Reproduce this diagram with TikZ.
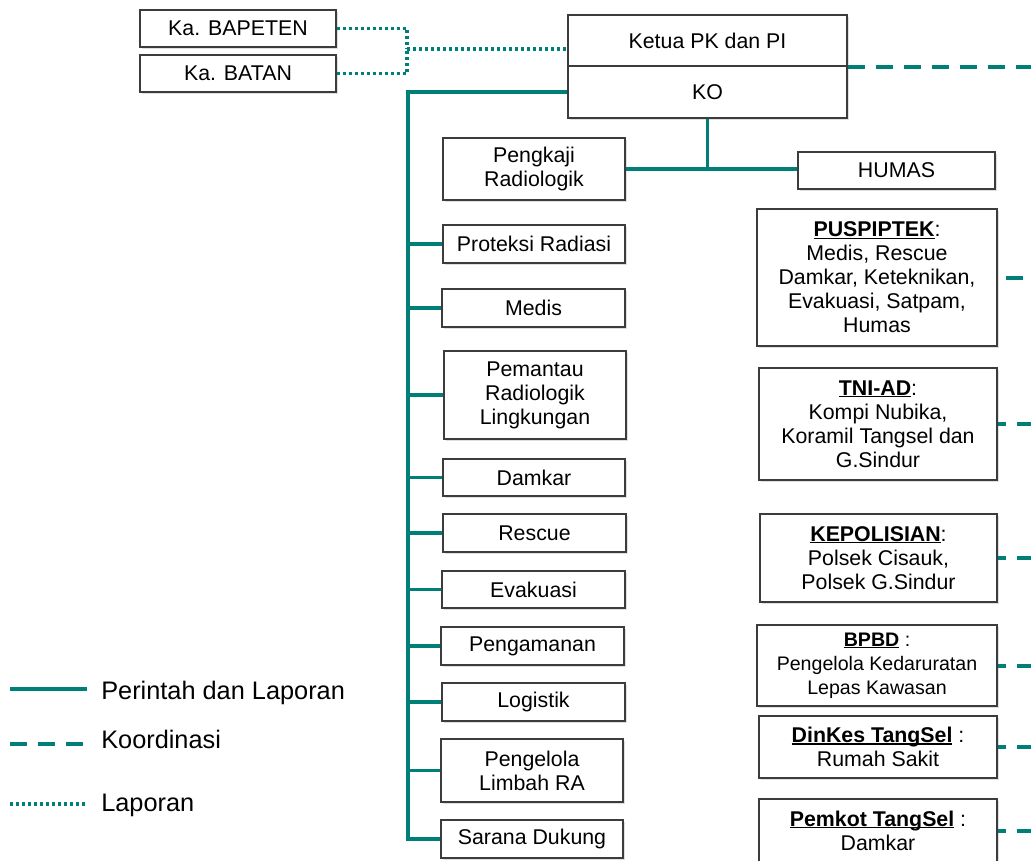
\documentclass[tikz,border=0pt]{standalone}
\usepackage{fontspec}
\setmainfont{Liberation Sans}
\usetikzlibrary{shadows}
\definecolor{teal1}{RGB}{0,126,120}
\definecolor{edgegray}{RGB}{60,60,60}
\newcommand\hdr[1]{\setbox0\hbox{\textbf{#1}}\rlap{\rule[-1.6pt]{\wd0}{1.1pt}}\box0\relax}
\newcommand\mybox[7][]{\node[box,#1,minimum width={(#5-#3)*0.75pt},minimum height={(#6-#4)*0.75pt}] (#2) at ({(#3+#5)/2},{(#4+#6)/2}) {#7};}
\begin{document}
\begin{tikzpicture}[x=0.75pt,y=-0.75pt,
  box/.style={draw=edgegray, line width=1pt, fill=white, inner sep=0pt, align=center,
    font=\fontsize{16}{18}\selectfont, text=black,
    drop shadow={opacity=0.25, shadow xshift=1.2pt, shadow yshift=-1.2pt}},
  small/.style={font=\fontsize{14.7}{18}\selectfont},
  cmd/.style={draw=teal1, line width=2.3pt},
  koor/.style={draw=teal1, line width=3pt, dash pattern=on 12.75pt off 8.25pt},
  lap/.style={draw=teal1, line width=2.6pt, dash pattern=on 2.4pt off 2.1pt},
  legend/.style={font=\fontsize{19}{22}\selectfont, inner sep=0pt, text=black}]
\useasboundingbox (0,0) rectangle (1031,860);
% top boxes
\mybox{bapeten}{140}{10}{336}{47}{Ka. BAPETEN}
\mybox{batan}{140}{55}{336}{92}{Ka. BATAN}
\mybox{ketua}{568}{15}{847}{66}{Ketua PK dan PI}
\mybox{ko}{568}{66}{847}{118}{KO}
% left column
\mybox{pengkaji}{443}{138}{625}{200}{Pengkaji\\Radiologik}
\mybox{humas}{798}{152}{995}{189}{HUMAS}
\mybox{prot}{443}{225}{625}{263}{Proteksi Radiasi}
\mybox{medis}{442}{289}{625}{327}{Medis}
\mybox{pem}{444}{351}{626}{439}{Pemantau\\Radiologik\\Lingkungan}
\mybox{damkar}{443}{459}{625}{496}{Damkar}
\mybox{rescue}{443}{514}{626}{552}{Rescue}
\mybox{evak}{442}{571}{625}{608}{Evakuasi}
\mybox{peng}{441}{627}{624}{665}{Pengamanan}
\mybox{logi}{442}{683}{625}{721}{Logistik}
\mybox{limbah}{441}{739}{623}{802}{Pengelola\\Limbah RA}
\mybox{sarana}{441}{820}{623}{858}{Sarana Dukung}
% right column
\mybox{pus}{757}{209}{997}{346}{\hdr{PUSPIPTEK}:\\Medis, Rescue\\Damkar, Keteknikan,\\Evakuasi, Satpam,\\Humas}
\mybox{tni}{759}{368}{997}{480}{\hdr{TNI-AD}:\\Kompi Nubika,\\Koramil Tangsel dan\\G.Sindur}
\mybox{polisi}{760}{514}{997}{602}{\hdr{KEPOLISIAN}:\\Polsek Cisauk,\\Polsek G.Sindur}
\mybox[small]{bpbd}{757}{625}{997}{706}{\hdr{BPBD} :\\Pengelola Kedaruratan\\Lepas Kawasan}
\mybox{dinkes}{759}{716}{997}{778}{\hdr{DinKes TangSel} :\\Rumah Sakit}
\mybox{pemkot}{759}{799}{997}{862}{\hdr{Pemkot TangSel} :\\Damkar}
% coordinates
\coordinate (dj) at (407,49);
\coordinate (sp) at (408,92);
\coordinate (rr) at (1031,0);
% laporan (dotted)
\draw[lap] (bapeten.east) -| (dj);
\draw[lap] (batan.east) -| (dj);
\draw[lap] (dj) -- (dj -| ketua.west);
% koordinasi (dashed)
\draw[koor] (ketua.south east) -- (ketua.south east -| rr);
\draw[koor, dash phase=15pt] (pus.east) -- (pus.east -| rr);
\foreach \n in {tni,polisi,bpbd,dinkes,pemkot}
  \draw[koor, dash phase=6.75pt] (\n.east) -- (\n.east -| rr);
% perintah (solid)
\draw[cmd] (ko.west) -- (sp) |- (sarana.west);
\foreach \n in {prot,medis,pem,damkar,rescue,evak,peng,logi,limbah}
  \draw[cmd] (sp |- \n.west) -- (\n.west);
\draw[cmd] (pengkaji.east) -- (pengkaji.east -| humas.west);
\draw[cmd] (ko.south) -- (ko.south |- pengkaji.east);
% legend
\coordinate (l1a) at (10,689); \coordinate (l1b) at (87,689);
\coordinate (l2a) at (10,744); \coordinate (l2b) at (83,744);
\coordinate (l3a) at (10,804); \coordinate (l3b) at (86,804);
\draw[cmd] (l1a) -- (l1b);
\draw[koor] (l2a) -- (l2b);
\draw[lap] (l3a) -- (l3b);
\node[legend, anchor=base west] (t1) at (101,699) {Perintah dan Laporan};
\node[legend, anchor=base west] (t2) at (101,748) {Koordinasi};
\node[legend, anchor=base west] (t3) at (101,811) {Laporan};
\end{tikzpicture}
\end{document}
